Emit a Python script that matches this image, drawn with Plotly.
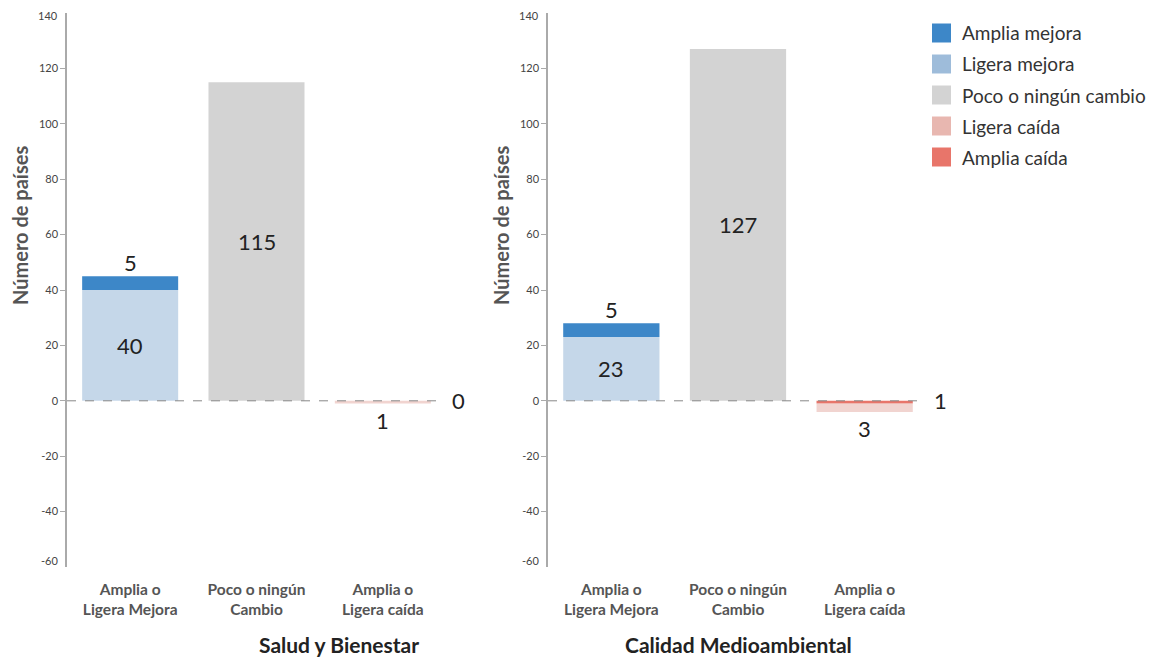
import plotly.graph_objects as go

categories = ["Amplia o<br>Ligera Mejora", "Poco o ningún<br>Cambio", "Amplia o<br>Ligera caída"]
panels = ["Salud y Bienestar", "Calidad Medioambiental"]
amplia_mejora = [5, 5]
ligera_mejora = [40, 23]
poco_cambio = [115, 127]
ligera_caida = [1, 3]
amplia_caida = [0, 1]

legend_names = ["Amplia mejora", "Ligera mejora", "Poco o ningún cambio", "Ligera caída", "Amplia caída"]
legend_colors = ["#3d87c8", "#9ebcda", "#d3d3d3", "#e8b7b0", "#e8756a"]
bar_colors = ["#3d87c8", "#9ebcda", "#d3d3d3", "#e8b7b0", "#e8756a"]
bar_opac = [1, 0.6, 1, 0.6, 1]

FONT = "Lato, 'Open Sans', sans-serif"
W, H = 1160, 658
TOP, BOT = 13, 567
PH = BOT - TOP
domains = [[67 / W, 446 / W], [548 / W, 928 / W]]

def py(pix):
    """paper y from pixel row"""
    return (BOT - pix) / PH

fig = go.Figure()
annotations = []
shapes = []

for i in range(2):
    xa = "x" if i == 0 else "x2"
    ya = "y" if i == 0 else "y2"
    c0, c1, c2 = categories
    fig.add_trace(go.Bar(x=[c0], y=[ligera_mejora[i]], marker=dict(color=bar_colors[1], opacity=bar_opac[1], line=dict(width=0)),
                         xaxis=xa, yaxis=ya, showlegend=False, hoverinfo="y"))
    fig.add_trace(go.Bar(x=[c0], y=[amplia_mejora[i]], marker=dict(color=bar_colors[0], line=dict(width=0)),
                         xaxis=xa, yaxis=ya, showlegend=False, hoverinfo="y"))
    fig.add_trace(go.Bar(x=[c1], y=[poco_cambio[i]], marker=dict(color=bar_colors[2], line=dict(width=0)),
                         xaxis=xa, yaxis=ya, showlegend=False, hoverinfo="y"))
    fig.add_trace(go.Bar(x=[c2], y=[-amplia_caida[i]], marker=dict(color=bar_colors[4], line=dict(width=0)),
                         xaxis=xa, yaxis=ya, showlegend=False, hoverinfo="y"))
    fig.add_trace(go.Bar(x=[c2], y=[-ligera_caida[i]], marker=dict(color=bar_colors[3], opacity=bar_opac[3], line=dict(width=0)),
                         xaxis=xa, yaxis=ya, showlegend=False, hoverinfo="y"))

    lab = dict(xref=xa, yref=ya, showarrow=False, font=dict(family=FONT, size=22, color="#222"))
    annotations.append(dict(lab, x=c0, y=ligera_mejora[i] / 2, text=str(ligera_mejora[i])))
    annotations.append(dict(lab, x=c0, y=ligera_mejora[i] + amplia_mejora[i], text=str(amplia_mejora[i]),
                            yanchor="bottom", yshift=-2))
    annotations.append(dict(lab, x=c1, y=poco_cambio[i] / 2, text=str(poco_cambio[i])))
    annotations.append(dict(lab, x=c2, y=-(ligera_caida[i] + amplia_caida[i]), text=str(ligera_caida[i]),
                            yanchor="top", yshift=-1))
    annotations.append(dict(lab, x=2.45, y=0, text=str(amplia_caida[i]), xanchor="left", xshift=10))

    shapes.append(dict(type="line", xref=xa, yref=ya, x0=-0.5, x1=2.45, y0=0, y1=0,
                       line=dict(color="#888", width=1, dash="dash")))

    annotations.append(dict(xref="paper", yref="paper", x=(domains[i][0] + domains[i][1]) / 2, y=py(644),
                            yanchor="middle", showarrow=False, text="<b>" + panels[i] + "</b>",
                            font=dict(family=FONT, size=21, color="#222")))
    annotations.append(dict(xref="paper", yref="paper", x=(20 if i == 0 else 501) / W, y=py(226),
                            xanchor="center", yanchor="middle", showarrow=False, textangle=-90,
                            text="<b>Número de países</b>", font=dict(family=FONT, size=20, color="#555")))
    annotations.append(dict(xref="paper", yref=ya, x=domains[i][0] - 7 / W, y=140, xanchor="right", yanchor="top",
                            yshift=6, showarrow=False, text="140", font=dict(family=FONT, size=11, color="#444")))
    annotations.append(dict(xref="paper", yref=ya, x=domains[i][0] - 7 / W, y=-60, xanchor="right", yanchor="bottom",
                            yshift=-2, showarrow=False, text="-60", font=dict(family=FONT, size=11, color="#444")))

# manual legend
for k, (n, c) in enumerate(zip(legend_names, legend_colors)):
    yc = 33 + k * 31
    shapes.append(dict(type="rect", xref="paper", yref="paper", x0=932 / W, x1=951 / W,
                       y0=py(yc + 9.5), y1=py(yc - 9.5), fillcolor=c, line=dict(width=0)))
    annotations.append(dict(xref="paper", yref="paper", x=960 / W, y=py(yc), xanchor="left", yanchor="middle",
                            showarrow=False, text=n, font=dict(family=FONT, size=19, color="#333")))

tickvals = [-40, -20, 0, 20, 40, 60, 80, 100, 120]
yax = dict(range=[-60, 140], showgrid=False, zeroline=False, showline=True, linecolor="#aaa", linewidth=1.5,
           ticks="outside", ticklen=5, tickcolor="#aaa", tickvals=tickvals, ticktext=[str(v) for v in tickvals],
           tickfont=dict(family=FONT, size=11, color="#444"), fixedrange=True)
xax = dict(showgrid=False, zeroline=False, showline=False, ticks="", categoryorder="array", categoryarray=categories,
           tickfont=dict(family=FONT, size=15.5, color="#555"), range=[-0.5, 2.5], ticklabelstandoff=11,
           tickvals=categories, ticktext=["<b>" + c + "</b>" for c in categories], fixedrange=True)

fig.update_layout(
    width=W, height=H,
    margin=dict(l=0, r=0, t=TOP, b=H - BOT),
    paper_bgcolor="white", plot_bgcolor="white",
    barmode="relative", bargap=0.24,
    xaxis=dict(xax, domain=domains[0], anchor="y"),
    xaxis2=dict(xax, domain=domains[1], anchor="y2"),
    yaxis=dict(yax, anchor="x"),
    yaxis2=dict(yax, anchor="x2"),
    annotations=annotations,
    shapes=shapes,
    showlegend=False,
    font=dict(family=FONT),
)

fig.write_html("out.html", config={"displayModeBar": False},
               post_script="document.body.style.margin='0';document.body.style.overflow='hidden';")
